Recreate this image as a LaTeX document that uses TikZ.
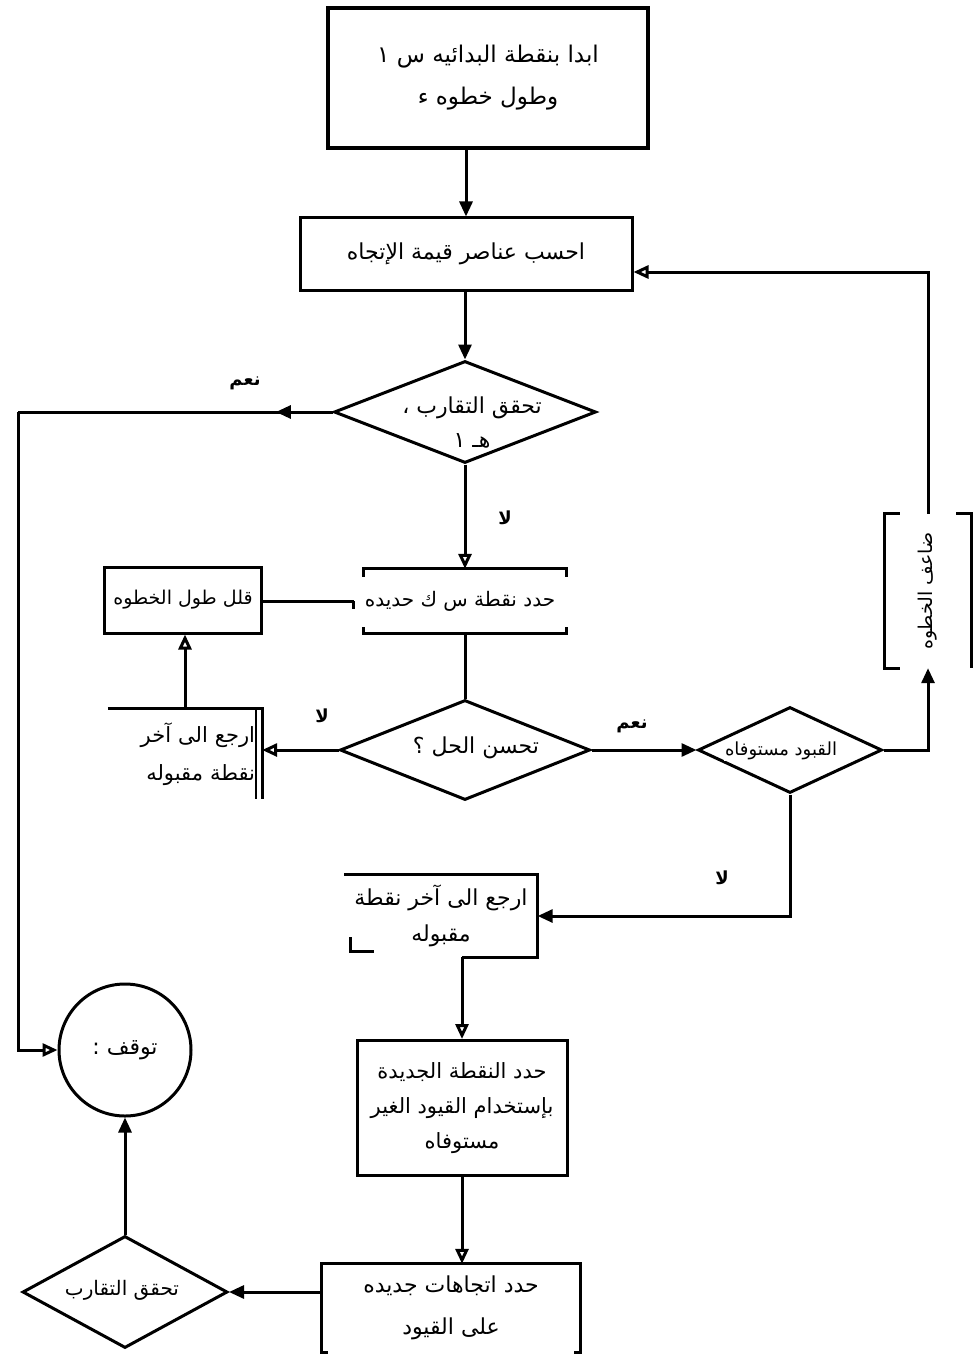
\documentclass[tikz,border=0pt]{standalone}
\usepackage{fontspec}
\setmainfont{DejaVu Sans}
\newfontfamily\arabicfont[Script=Arabic]{DejaVu Sans}
\TeXXeTstate=1
\usetikzlibrary{arrows.meta,shapes.geometric,decorations.markings}

\begin{document}
\begin{tikzpicture}[x=1pt,y=-1pt,
  ln/.style={line width=3pt},
  txt/.style={font=\arabicfont\fontsize{22}{38}\selectfont,align=center,inner sep=2pt},
  lbl/.style={font=\arabicfont\fontsize{18}{20}\selectfont\bfseries,inner sep=1pt},
  fa/.style={-{Triangle[length=15pt,width=13pt]}},
  oa/.style={-{Triangle[open,length=15pt,width=13pt]}},
  dia/.style={diamond,draw,ln,inner sep=0pt}]

\useasboundingbox (0,0) rectangle (979,1356);
\fill[white] (0,0) rectangle (979,1356);

% start box
\node[draw,line width=3.4pt,txt,font=\arabicfont\fontsize{23}{42}\selectfont,
      minimum width=320pt,minimum height=140pt] (start) at (488,78)
  {\beginR ابدا بنقطة البدائيه س ١\endR\\\beginR وطول خطوه ء\endR};

% gradient box
\node[draw,ln,txt,minimum width=332pt,minimum height=72pt] (grad) at (466,254)
  {\beginR احسب عناصر قيمة الإتجاه\endR};
\coordinate (gradin) at ([yshift=-18pt]grad.east);

% first convergence test
\node[dia,minimum width=262pt,minimum height=102pt] (conv) at (465,412) {};
\node[txt,font=\arabicfont\fontsize{22}{34}\selectfont] (convt) at (472,422)
  {\beginR تحقق التقارب ،\endR\\\beginR هـ ١\endR};

% new point
\node[txt,font=\arabicfont\fontsize{20}{24}\selectfont,minimum width=212pt,minimum height=64pt] (newpt) at (460,601)
  {\beginR حدد نقطة س ك حديده\endR};
\draw[ln] ([xshift=10pt,yshift=-8pt]newpt.north west) -- ([xshift=10pt]newpt.north west)
  -- (newpt.north east) -- ([yshift=-8pt]newpt.north east);
\draw[ln] ([xshift=10pt,yshift=6pt]newpt.south west) -- ([xshift=10pt]newpt.south west)
  -- (newpt.south east) -- ([yshift=6pt]newpt.south east);
\draw[ln] (newpt.west) -- ([yshift=-8pt]newpt.west);

% shrink step
\node[draw,ln,txt,font=\arabicfont\fontsize{19}{24}\selectfont,minimum width=157pt,minimum height=66pt] (shrink) at (183,600)
  {\beginR قلل طول الخطوه\endR};

% improvement test
\node[dia,minimum width=250pt,minimum height=100pt] (improve) at (465,750) {};
\node[txt] (improvet) at (476,748) {\beginR تحسن الحل ؟\endR};

% back to last accepted point (left)
\node[txt,font=\arabicfont\fontsize{21}{38}\selectfont,text width=140pt,align=right,
      minimum width=154pt,minimum height=90pt] (back1) at (185,754)
  {\beginR ارجع الى آخر\endR\\\beginR نقطة مقبوله\endR};
\draw[ln] (back1.north west) -- (back1.north east) -- (back1.south east);
\draw[line width=1.6pt] ([xshift=-6pt]back1.north east) -- ([xshift=-6pt]back1.south east);

% constraints test
\node[dia,minimum width=184pt,minimum height=86pt] (feas) at (790,750) {};
\node[txt,font=\arabicfont\fontsize{18}{22}\selectfont,fill=white,inner sep=1pt] (feast) at (781,751)
  {\beginR القبود مستوفاه\endR};

% double step
\node[minimum width=86pt,minimum height=154pt,inner sep=0pt] (dbl) at (928,591) {};
\node[txt,font=\arabicfont\fontsize{19}{22}\selectfont,rotate=90] (dblt) at (dbl.center)
  {\beginR ضاعف الخطوه\endR};
\draw[ln] ([xshift=15pt]dbl.north west) -- (dbl.north west) -- (dbl.south west) -- ([xshift=15pt]dbl.south west);
\draw[ln] ([xshift=-15pt]dbl.north east) -- (dbl.north east) -- (dbl.south east);

% back to last accepted point (middle)
\node[txt,font=\arabicfont\fontsize{22}{36}\selectfont,minimum width=193pt,minimum height=82pt] (back2) at (441,916)
  {\beginR ارجع الى آخر نقطة\endR\\\beginR مقبوله\endR};

% new point from violated constraints
\node[draw,ln,txt,font=\arabicfont\fontsize{21}{35}\selectfont,minimum width=210pt,minimum height=135pt] (newpos) at (462,1108)
  {\beginR حدد النقطة الجديدة\endR\\\beginR بإستخدام القيود الغير\endR\\\beginR مستوفاه\endR};

\draw[ln] (back2.north west) -- (back2.north east) -- (back2.south east) -- (back2.south -| newpos.north);
\draw[ln] ([xshift=6pt,yshift=20pt]back2.south west) -- ([xshift=6pt,yshift=6pt]back2.south west)
  -- ([xshift=30pt,yshift=6pt]back2.south west);

% new directions
\node[txt,font=\arabicfont\fontsize{22}{42}\selectfont,minimum width=258pt,minimum height=88pt] (newdir) at (451,1308)
  {\beginR حدد اتجاهات جديده\endR\\\beginR على القيود\endR};
\draw[ln] ([xshift=6pt]newdir.south west) -- (newdir.south west) -- (newdir.north west)
  -- (newdir.north east) -- (newdir.south east) -- ([xshift=-6pt]newdir.south east);

% second convergence test
\node[dia,minimum width=205pt,minimum height=112pt] (conv2) at (125,1292) {};
\node[txt,font=\arabicfont\fontsize{20}{24}\selectfont] (conv2t) at (122,1290) {\beginR تحقق التقارب\endR};

% stop
\node[circle,draw,ln,txt,minimum size=132pt] (stop) at (125,1050) {\beginR توقف :\endR};

% labels
\node[lbl] (yes1) at (245,383) {\beginR نعم\endR};
\node[lbl] (no1) at (505,518) {\beginR لا\endR};
\node[lbl] (no2) at (322,716) {\beginR لا\endR};
\node[lbl] (yes2) at (632,726) {\beginR نعم\endR};
\node[lbl] (no3) at (722,878) {\beginR لا\endR};

% connectors
\coordinate (lft) at (18,0);
\draw[ln,fa] (start.south -| grad.north) -- (grad.north);
\draw[ln,fa] (grad.south -| conv.north) -- (conv.north);
\draw[ln,oa] (conv.south) -- (conv.south |- newpt.north);
\draw[ln] (newpt.west) -- (newpt.west -| shrink.east);
\draw[ln] (newpt.south -| improve.north) -- (improve.north);
\draw[ln,oa] (improve.west) -- (improve.west -| back1.east);
\draw[ln,oa] (back1.north) -- (back1.north |- shrink.south);
\draw[ln,fa] (improve.east) -- (feas.west);
\draw[ln,fa] (feas.east) -| (dbl.south);
\draw[ln,oa] (dbl.north) |- (gradin);
\draw[ln,fa] (feas.south) |- (back2.east);
\draw[ln,oa] (back2.south -| newpos.north) -- (newpos.north);
\draw[ln,oa] (newpos.south) -- (newpos.south |- newdir.north);
\draw[ln,fa] (newdir.west |- conv2.east) -- (conv2.east);
\draw[ln,fa] (conv2.north) -- (stop.south);
\draw[ln,postaction={decorate},decoration={markings,
    mark=at position 0.18 with {\arrow{Triangle[length=15pt,width=13pt]}}}]
  (conv.west) -- (conv.west -| lft);
\draw[ln,oa] (conv.west -| lft) -- (lft |- stop.west) -- (stop.west);
\end{tikzpicture}
\end{document}
